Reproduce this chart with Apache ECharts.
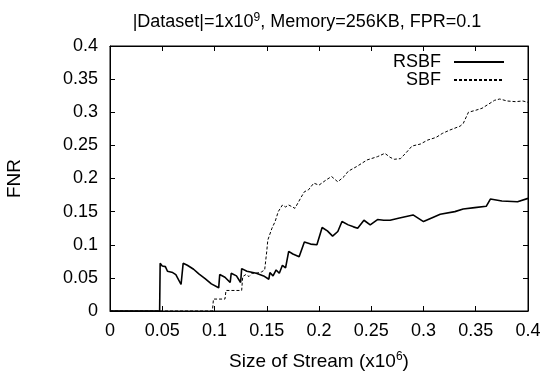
<!DOCTYPE html>
<html>
<head>
<meta charset="utf-8">
<script src="https://cdn.jsdelivr.net/npm/echarts@6/dist/echarts.min.js"></script>
<style>
  html, body { margin: 0; padding: 0; background: #fff; }
  #chart { width: 547px; height: 371px; }
</style>
</head>
<body>
<div id="chart"></div>
<script>
var dom = document.getElementById('chart');
var myChart = echarts.init(dom, null, { renderer: 'canvas' });

// stream size (x10^6) vs FNR
var rsbfPoints = [
    [0, 0], [0.0475, 0], [0.048, 0.072], [0.050, 0.068], [0.053, 0.067], [0.055, 0.060],
    [0.060, 0.058], [0.063, 0.055], [0.068, 0.040], [0.070, 0.072], [0.074, 0.069],
    [0.080, 0.063], [0.085, 0.056], [0.091, 0.049], [0.097, 0.041], [0.104, 0.035],
    [0.105, 0.055], [0.110, 0.051], [0.115, 0.043], [0.116, 0.057], [0.121, 0.053],
    [0.125, 0.043], [0.126, 0.064], [0.131, 0.060], [0.140, 0.057], [0.147, 0.053],
    [0.152, 0.048], [0.153, 0.058], [0.156, 0.053], [0.159, 0.062], [0.162, 0.057],
    [0.165, 0.069], [0.168, 0.065], [0.171, 0.090], [0.175, 0.086], [0.181, 0.082],
    [0.186, 0.104], [0.192, 0.101], [0.198, 0.100], [0.203, 0.126], [0.208, 0.121],
    [0.213, 0.113], [0.218, 0.120], [0.222, 0.135], [0.228, 0.130], [0.233, 0.127],
    [0.237, 0.125], [0.243, 0.137], [0.249, 0.130], [0.256, 0.138], [0.262, 0.137],
    [0.268, 0.137], [0.276, 0.140], [0.290, 0.145], [0.300, 0.135], [0.310, 0.142],
    [0.316, 0.146], [0.330, 0.150], [0.338, 0.154], [0.349, 0.156], [0.360, 0.158],
    [0.364, 0.169], [0.375, 0.166], [0.390, 0.165], [0.400, 0.170]
];
var sbfPoints = [
    [0, 0], [0.098, 0], [0.099, 0.018], [0.110, 0.018], [0.111, 0.031], [0.126, 0.031],
    [0.127, 0.052], [0.130, 0.055], [0.133, 0.052], [0.136, 0.057], [0.140, 0.057],
    [0.145, 0.059], [0.148, 0.062], [0.150, 0.090], [0.151, 0.107], [0.155, 0.125],
    [0.158, 0.135], [0.161, 0.150], [0.165, 0.160], [0.168, 0.157], [0.171, 0.160],
    [0.177, 0.155], [0.183, 0.172], [0.186, 0.180], [0.190, 0.183], [0.195, 0.193],
    [0.200, 0.190], [0.207, 0.198], [0.212, 0.203], [0.218, 0.195], [0.224, 0.203],
    [0.228, 0.211], [0.236, 0.218], [0.246, 0.228], [0.256, 0.233], [0.263, 0.238],
    [0.268, 0.232], [0.272, 0.229], [0.278, 0.230], [0.284, 0.240], [0.289, 0.249],
    [0.297, 0.252], [0.304, 0.258], [0.312, 0.262], [0.318, 0.268], [0.325, 0.273],
    [0.335, 0.279], [0.338, 0.283], [0.343, 0.300], [0.350, 0.303], [0.356, 0.306],
    [0.362, 0.312], [0.368, 0.318], [0.373, 0.320], [0.380, 0.317], [0.388, 0.316],
    [0.395, 0.317], [0.400, 0.315]
];
var xMin = 0, xMax = 0.4, xStep = 0.05;
var yMin = 0, yMax = 0.4, yStep = 0.05;

var font = 'Liberation Sans, Arial, sans-serif';
var sup = { fontSize: 12, verticalAlign: 'top', padding: [0, 0, 9, 0], fontFamily: font, color: '#000' };

function tickLabel(v) {
    return String(Math.round(v * 100) / 100);
}

// gnuplot style frame: mirrored ticks on top and right
function frameAxis(pos, min, max, step) {
    return {
        type: 'value',
        position: pos,
        min: min, max: max, interval: step,
        axisLine: { show: true, onZero: false, lineStyle: { color: '#000', width: 1 } },
        axisTick: { show: true, inside: true, length: 5, lineStyle: { color: '#000' } },
        axisLabel: { show: false },
        splitLine: { show: false }
    };
}

var legendText = { fontFamily: font, fontSize: 18, color: '#000', padding: [0, 8, 0, 0] };

var option = {
    animation: false,
    backgroundColor: '#fff',
    title: {
        text: '|Dataset|=1x10{sup|9}, Memory=256KB, FPR=0.1',
        left: 307,
        top: 12,
        padding: 0,
        textAlign: 'center',
        textStyle: {
            fontFamily: font,
            fontSize: 18,
            fontWeight: 'normal',
            color: '#000',
            rich: { sup: sup }
        }
    },
    legend: [
        {
            data: ['RSBF'],
            right: 42, top: 53, padding: 0,
            align: 'right',
            itemWidth: 50, itemHeight: 14,
            itemStyle: { opacity: 0 },
            textStyle: legendText
        },
        {
            data: ['SBF'],
            right: 42, top: 71, padding: 0,
            align: 'right',
            itemWidth: 50, itemHeight: 14,
            itemStyle: { opacity: 0 },
            textStyle: legendText
        }
    ],
    grid: {
        left: 110, right: 19, top: 46, bottom: 60,
        outerBoundsMode: 'none',
        show: true,
        borderColor: '#000',
        borderWidth: 1
    },
    xAxis: [
        {
            type: 'value',
            min: xMin, max: xMax, interval: xStep,
            name: 'Size of Stream (x10{sup|6})',
            nameLocation: 'middle',
            nameGap: 40,
            nameTextStyle: { fontFamily: font, fontSize: 19, color: '#000', rich: { sup: sup } },
            axisLine: { show: true, onZero: false, lineStyle: { color: '#000', width: 1 } },
            axisTick: { show: true, inside: true, length: 5, lineStyle: { color: '#000' } },
            axisLabel: { fontFamily: font, fontSize: 18, color: '#000', margin: 11, formatter: tickLabel },
            splitLine: { show: false }
        },
        frameAxis('top', xMin, xMax, xStep)
    ],
    yAxis: [
        {
            type: 'value',
            min: yMin, max: yMax, interval: yStep,
            name: 'FNR',
            nameLocation: 'middle',
            nameGap: 86,
            nameRotate: 90,
            nameTextStyle: { fontFamily: font, fontSize: 19, color: '#000' },
            axisLine: { show: true, onZero: false, lineStyle: { color: '#000', width: 1 } },
            axisTick: { show: true, inside: true, length: 5, lineStyle: { color: '#000' } },
            axisLabel: { fontFamily: font, fontSize: 18, color: '#000', margin: 12, formatter: tickLabel },
            splitLine: { show: false }
        },
        frameAxis('right', yMin, yMax, yStep)
    ],
    series: [
        {
            name: 'RSBF',
            type: 'line',
            xAxisIndex: 0, yAxisIndex: 0,
            symbol: 'none',
            color: '#000',
            lineStyle: { color: '#000', width: 1.6 },
            data: rsbfPoints
        },
        {
            name: 'SBF',
            type: 'line',
            xAxisIndex: 0, yAxisIndex: 0,
            symbol: 'none',
            color: '#000',
            lineStyle: { color: '#000', width: 1, type: [3, 2] },
            data: sbfPoints
        },
        {
            // empty series so the mirrored frame axes get drawn
            name: 'frame',
            type: 'line',
            xAxisIndex: 1, yAxisIndex: 1,
            symbol: 'none',
            data: []
        }
    ]
};

myChart.setOption(option);
window.addEventListener('resize', myChart.resize);
</script>
</body>
</html>
